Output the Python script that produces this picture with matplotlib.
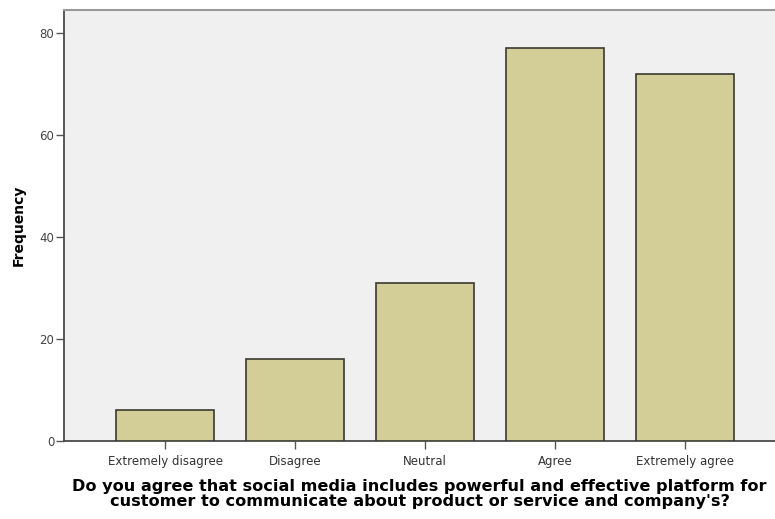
import matplotlib
matplotlib.use("Agg")
import matplotlib.pyplot as plt

categories = ["Extremely disagree", "Disagree", "Neutral", "Agree", "Extremely agree"]
frequencies = [6, 16, 31, 77, 72]
y_ticks = [0, 20, 40, 60, 80]
x_title = ("Do you agree that social media includes powerful and effective platform for\n"
           "customer to communicate about product or service and company's?")
y_title = "Frequency"

fig = plt.figure(figsize=(7.75, 5.19), dpi=100)
fig.patch.set_facecolor("white")
ax = fig.add_axes([64/775, (519-441)/519, (775-64)/775, (441-10)/519])
ax.set_facecolor("#F0F0F0")

x = list(range(len(categories)))
ax.bar(x, frequencies, width=0.755, color="#D3CE97", edgecolor="#3a3a30", linewidth=1.2, zorder=3)

ax.set_xlim(-0.777, 4.69)
ax.set_ylim(0, 84.5)
ax.set_yticks(y_ticks)
ax.set_xticks(x)
ax.set_xticklabels(categories, fontsize=8.5, color="#333333", family="DejaVu Sans")
ax.tick_params(axis="y", labelsize=8.5, labelcolor="#444444", length=6, width=1, color="#555555", pad=1)
ax.tick_params(axis="x", length=6, width=1, color="#555555", pad=4)

for s in ["left", "bottom"]:
    ax.spines[s].set_color("#4a4a4a")
    ax.spines[s].set_linewidth(1.3)
ax.spines["top"].set_color("#9a9a9a")
ax.spines["top"].set_linewidth(1.5)
ax.spines["right"].set_visible(False)

ax.set_ylabel(y_title, fontsize=10, fontweight="bold", labelpad=10)
ax.set_xlabel(x_title, fontsize=11.6, fontweight="bold", labelpad=8, linespacing=1.0)

fig.savefig("out.png", dpi=100)
